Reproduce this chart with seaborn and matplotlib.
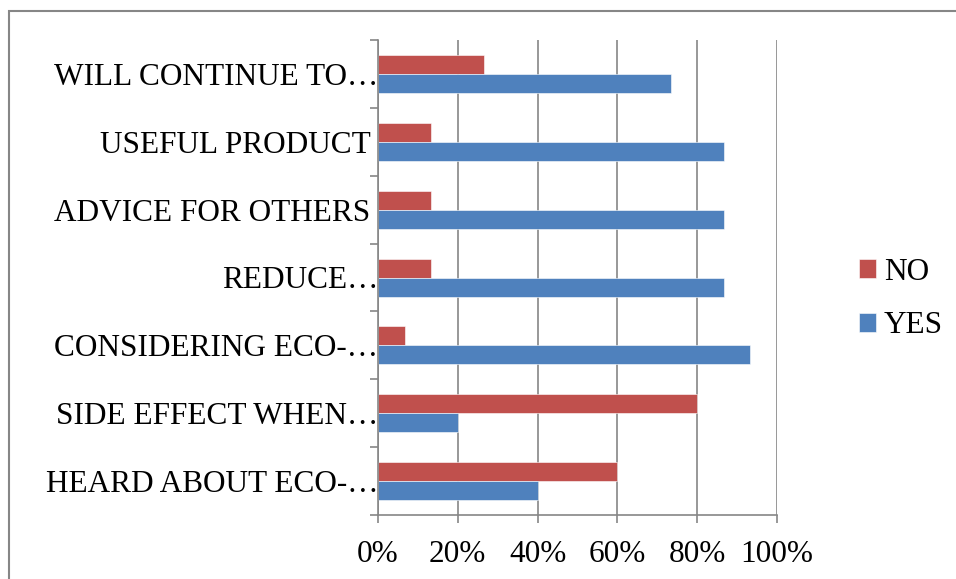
import matplotlib
matplotlib.use("Agg")
import matplotlib.pyplot as plt
import seaborn as sns
import pandas as pd
from matplotlib.patches import Rectangle

categories = ["WILL CONTINUE TO…", "USEFUL PRODUCT ", "ADVICE FOR OTHERS ", "REDUCE…",
              "CONSIDERING ECO-…", "SIDE EFFECT WHEN…", "HEARD ABOUT ECO-…"]
no_values = [26.67, 13.33, 13.33, 13.33, 6.67, 80.0, 60.0]
yes_values = [73.33, 86.67, 86.67, 86.67, 93.33, 20.0, 40.0]
x_ticks = [0, 20, 40, 60, 80, 100]
x_tick_labels = ["0%", "20%", "40%", "60%", "80%", "100%"]

df = pd.DataFrame({
    "category": categories * 2,
    "value": no_values + yes_values,
    "answer": ["NO"] * len(categories) + ["YES"] * len(categories),
})

sns.set_style("white")
plt.rcParams["font.family"] = ["Liberation Serif", "DejaVu Serif"]
plt.rcParams["text.color"] = "black"
plt.rcParams["xtick.color"] = "black"
plt.rcParams["ytick.color"] = "black"

FS = 22.5

fig = plt.figure(figsize=(9.56, 5.79), dpi=100)
ax = fig.add_axes([378 / 956, 1 - 515 / 579, (777 - 378) / 956, (515 - 40) / 579])

sns.barplot(data=df, y="category", x="value", hue="answer", hue_order=["NO", "YES"],
            order=categories, palette={"NO": "#C0504D", "YES": "#4F81BD"},
            width=0.56, orient="h", ax=ax, edgecolor="white", linewidth=0.4,
            saturation=1)

ax.set_xlim(0, 100)
ax.set_ylim(len(categories) - 0.5, -0.5)
ax.set_xticks(x_ticks)
ax.set_xticklabels(x_tick_labels, fontsize=FS)
ax.set_yticks(range(len(categories)))
ax.set_yticklabels(categories, fontsize=FS)
ax.set_yticks([i - 0.5 for i in range(len(categories) + 1)], minor=True)
ax.tick_params(axis="y", which="major", length=0, pad=0)
ax.tick_params(axis="y", which="minor", length=6, color="#868686", width=1.2, left=True)
ax.tick_params(axis="x", which="major", length=6, color="#868686", width=1.2, bottom=True,
               pad=12, labelcolor="black")
ax.set_xlabel("")
ax.set_ylabel("")

ax.grid(axis="x", color="#868686", linewidth=1.2)
ax.set_axisbelow(True)
for s in ["top", "right"]:
    ax.spines[s].set_visible(False)
for s in ["left", "bottom"]:
    ax.spines[s].set_color("#868686")
    ax.spines[s].set_linewidth(1.2)

leg = ax.legend(loc="center left", bbox_to_anchor=(859 / 956, 1 - 299 / 579),
                bbox_transform=fig.transFigure, frameon=False, fontsize=FS,
                handlelength=0.55, handleheight=0.55, handletextpad=0.25, labelspacing=0.78,
                borderaxespad=0, borderpad=0)

fig.patches.append(Rectangle((9 / 956, -0.1), 2, 1 - 11 / 579 + 0.1,
                             transform=fig.transFigure, fill=False,
                             edgecolor="#868686", linewidth=1.5))

fig.savefig("out.png", dpi=100)
